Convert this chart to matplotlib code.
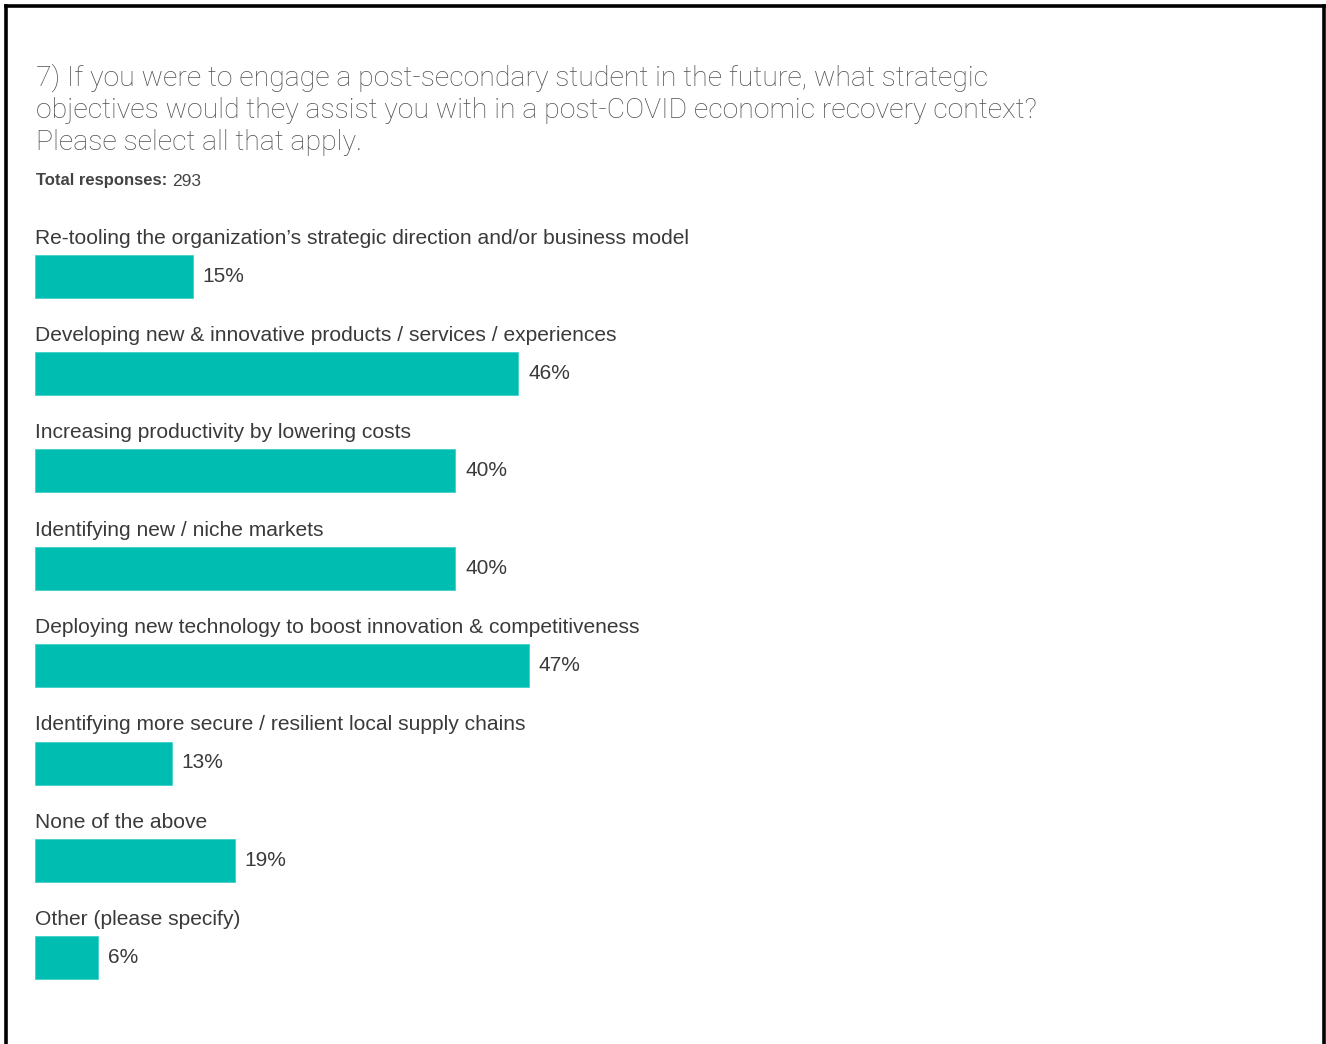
import matplotlib.pyplot as plt
from matplotlib.lines import Line2D

categories = [
    "Re-tooling the organization\u2019s strategic direction and/or business model",
    "Developing new & innovative products / services / experiences",
    "Increasing productivity by lowering costs",
    "Identifying new / niche markets",
    "Deploying new technology to boost innovation & competitiveness",
    "Identifying more secure / resilient local supply chains",
    "None of the above",
    "Other (please specify)",
]
percents = [15, 46, 40, 40, 47, 13, 19, 6]

title_lines = [
    "7) If you were to engage a post-secondary student in the future, what strategic",
    "objectives would they assist you with in a post-COVID economic recovery context?",
    "Please select all that apply.",
]
total_responses = 293

W, H = 1326, 1044
BAR_COLOR = "#00BDB2"
LABEL_COLOR = "#3a3a3a"

plt.rcParams["font.family"] = ["Liberation Sans", "DejaVu Sans"]

fig = plt.figure(figsize=(W / 100, H / 100), dpi=100)
fig.patch.set_facecolor("white")

# axes fills the canvas; limits set so that 1% ~ 10.5 px and rows are ~97 px apart
ax = fig.add_axes([0, 0, 1, 1])
px_per_pct = 10.5
x0 = 35
row0, row_step = 276, 97.4
ax.set_xlim(-x0 / px_per_pct, (W - x0) / px_per_pct)
ax.set_ylim((H - row0) / row_step, -row0 / row_step)
ax.axis("off")

bar_h = 43 / row_step
rows = list(range(len(categories)))
ax.barh(rows, percents, height=bar_h, left=0, color=BAR_COLOR,
        edgecolor="#3fd2c8", linewidth=0.6)

for i, (cat, p) in enumerate(zip(categories, percents)):
    ax.text(0, i - bar_h / 2 - 11 / row_step, cat, fontsize=15.1,
            color=LABEL_COLOR, va="baseline", ha="left")
    ax.text(p + 10 / px_per_pct, i, f"{p}%", fontsize=15,
            color=LABEL_COLOR, va="center", ha="left")

# question text
for k, line in enumerate(title_lines):
    fig.text(36 / W, 1 - (78 + 32 * k) / H, line, fontsize=20.4,
             color="#505050", va="center", ha="left",
             family=["Roboto", "DejaVu Sans"], fontweight="light")

lead = fig.text(36 / W, 1 - 181 / H, "Total responses:", fontsize=12,
                color="#444444", va="center", ha="left", fontweight="bold")
fig.canvas.draw()
lead_box = lead.get_window_extent()
fig.text((lead_box.x1 + 5) / W, 1 - 181 / H, str(total_responses),
         fontsize=12.5, color="#444444", va="center", ha="left")

# frame on top, left and right
lw = 3.6 * 72 / 100
fig.add_artist(Line2D([5.5 / W, 5.5 / W], [0, 1 - 5.5 / H], color="black",
                      lw=lw, transform=fig.transFigure))
fig.add_artist(Line2D([5.5 / W, 1324 / W], [1 - 5.5 / H, 1 - 5.5 / H],
                      color="black", lw=lw, transform=fig.transFigure,
                      solid_capstyle="projecting"))
fig.add_artist(Line2D([1324 / W, 1324 / W], [0, 1 - 5.5 / H], color="black",
                      lw=lw, transform=fig.transFigure))

fig.savefig("out.png", dpi=100)
